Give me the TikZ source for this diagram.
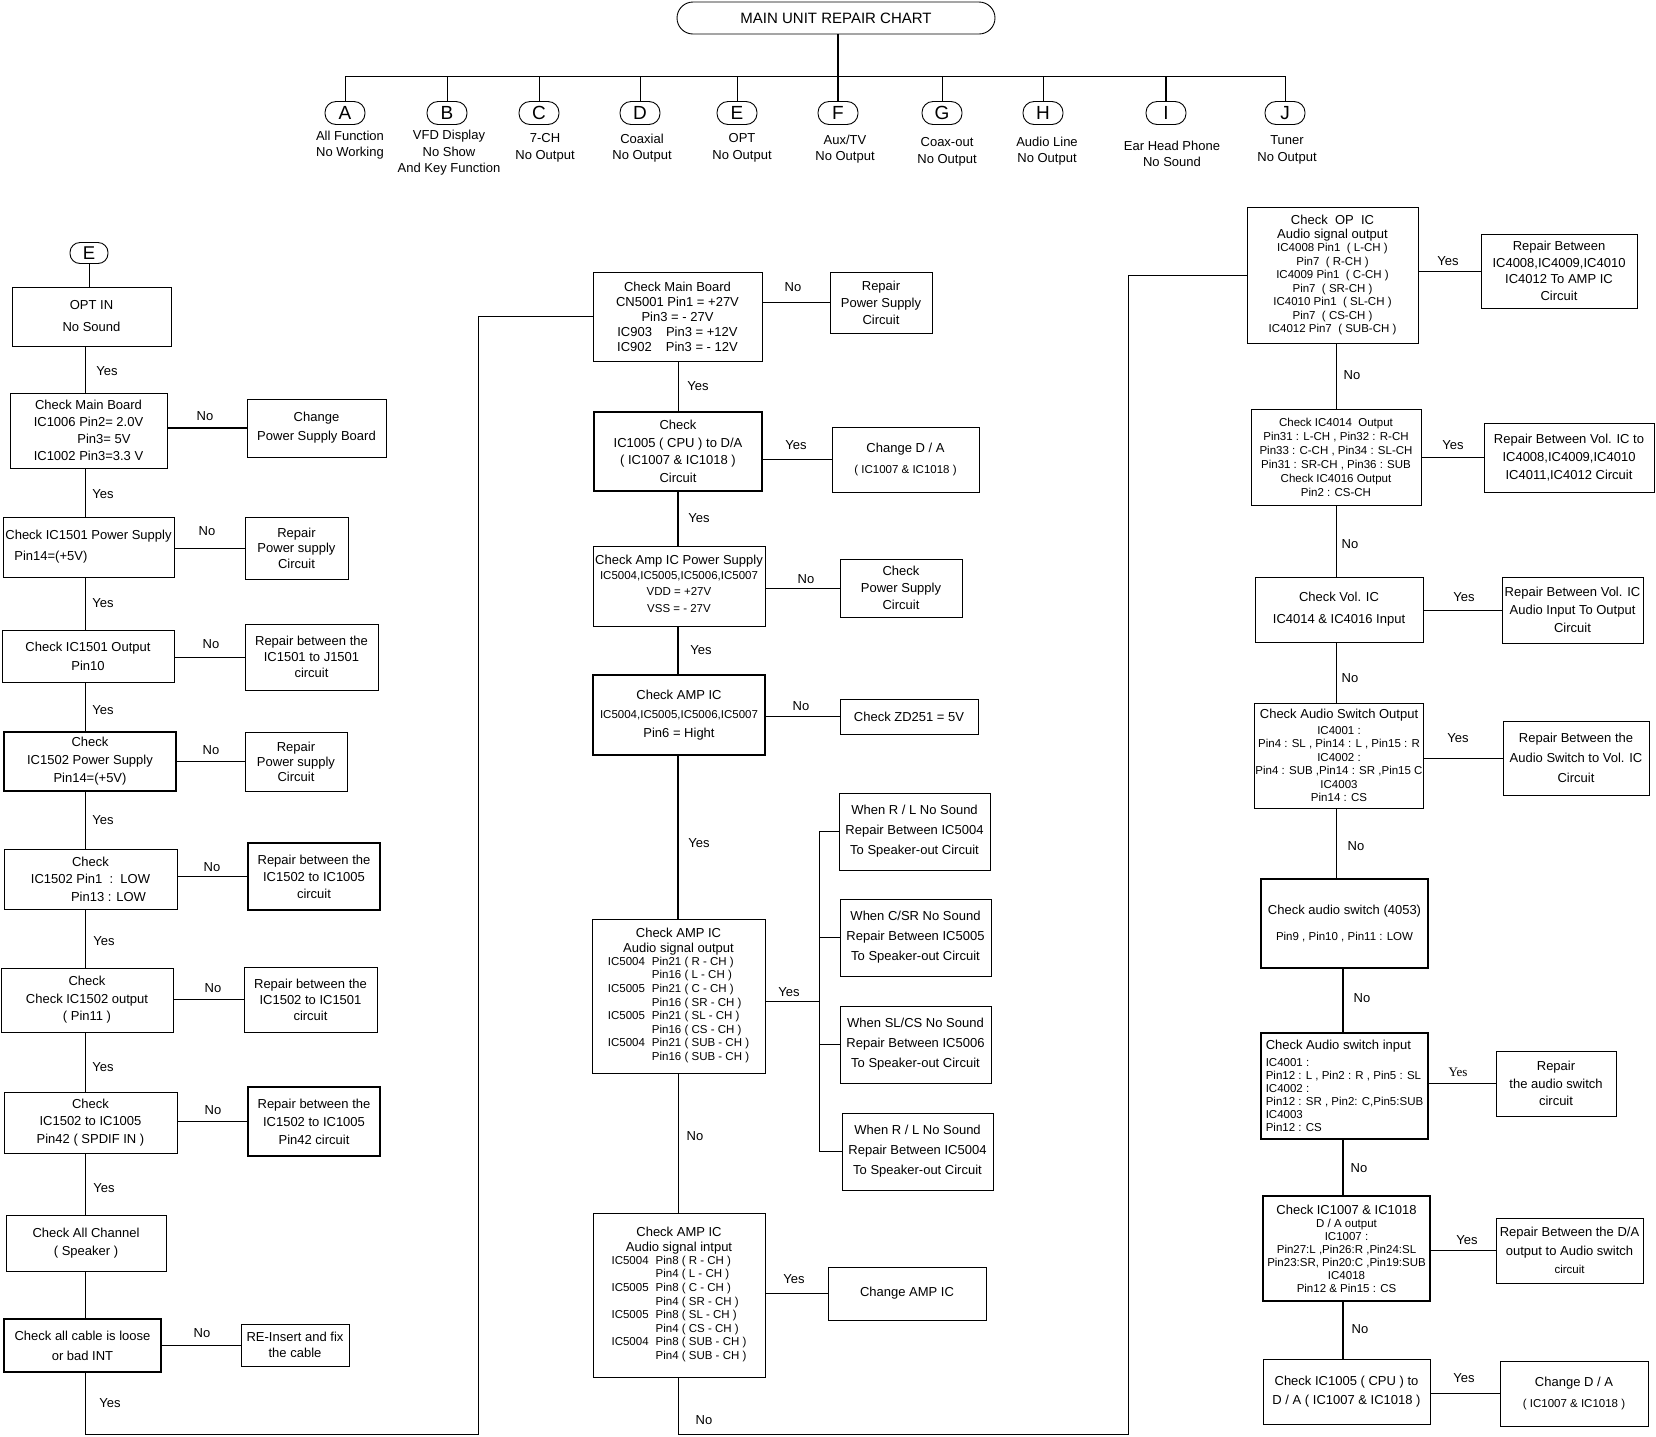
\documentclass[tikz,border=0pt]{standalone}
\usepackage{fontspec}
\setmainfont{Liberation Sans}
\newfontfamily\serifyes{Liberation Serif}
\usepackage{tikz}
\newcommand{\lead}[1]{\fontsize{13}{#1}\selectfont}
\newcommand{\smallfont}{\fontsize{11.5}{13}\selectfont}
\tikzset{
  box/.style={rectangle, draw=black, line width=0.9pt, align=center, inner sep=1pt, font=\lead{17}},
  heavybox/.style={box, line width=1.7pt},
  tag/.style={rectangle, draw=black, line width=0.9pt, rounded corners=11pt, minimum width=40pt, minimum height=23pt, inner sep=0pt, font=\fontsize{19}{19}\selectfont},
  caption/.style={align=center, inner sep=0pt, font=\lead{16.5}},
  lbl/.style={inner sep=0pt, font=\lead{13}},
  wire/.style={line width=0.9pt},
  heavy/.style={line width=1.8pt},
}
\begin{document}
\begin{tikzpicture}[x=1pt, y=-1pt]
        \useasboundingbox (0,0) rectangle (1656,1436);

        % Title and branches
        \node[box, rounded corners=16pt, minimum width=318pt, minimum height=32pt, font=\fontsize{15}{17}\selectfont] (title) at (836,18) {MAIN UNIT REPAIR CHART};
        \coordinate (hub) at (838,76);
        \node[tag] (A) at (345,113) {A};
        \node[tag] (B) at (447,113) {B};
        \node[tag] (C) at (539,113) {C};
        \node[tag] (D) at (640,113) {D};
        \node[tag] (E) at (737,113) {E};
        \node[tag] (F) at (838,113) {F};
        \node[tag] (G) at (942,113) {G};
        \node[tag] (H) at (1043,113) {H};
        \node[tag] (I) at (1166,113) {I};
        \node[tag] (J) at (1285,113) {J};
        \node[caption] (capA) at (350,145) {All Function\\ No Working};
        \node[caption] (capB) at (449,153) {VFD Display\\ No Show\\ And Key Function};
        \node[caption] (capC) at (545,148) {7-CH\\ No Output};
        \node[caption] (capD) at (642,148) {Coaxial\\ No Output};
        \node[caption] (capE) at (742,148) {OPT\\ No Output};
        \node[caption] (capF) at (845,149) {Aux/TV\\ No Output};
        \node[caption] (capG) at (947,152) {Coax-out\\ No Output};
        \node[caption] (capH) at (1047,151) {Audio Line\\ No Output};
        \node[caption] (capI) at (1172,154) {Ear Head Phone\\ No Sound};
        \node[caption] (capJ) at (1287,150) {Tuner\\ No Output};
        \draw[heavy] (title.south -| hub) -- (hub);
        \draw[wire] (A.north) |- (hub);
        \draw[wire] (J.north) |- (hub);
        \draw[wire] (B.north) -- (B.north |- hub);
        \draw[wire] (C.north) -- (C.north |- hub);
        \draw[wire] (D.north) -- (D.north |- hub);
        \draw[wire] (E.north) -- (E.north |- hub);
        \draw[heavy] (F.north) -- (hub);
        \draw[wire] (G.north) -- (G.north |- hub);
        \draw[wire] (H.north) -- (H.north |- hub);
        \draw[heavy] (I.north) -- (I.north |- hub);

        % Left column
        \coordinate (lt) at (85,0);
        \node[tag, minimum width=38pt, minimum height=21pt, rounded corners=10pt, font=\fontsize{18.5}{18.5}\selectfont] (eopt) at (89,253) {E};
        \node[box, minimum width=159pt, minimum height=59pt] (optin) at (91.5,316.5) {OPT IN\\[5pt] No Sound};
        \node[box, minimum width=157pt, minimum height=75pt] (lcmb) at (88.5,430.5) {Check Main Board\\ IC1006 Pin2= 2.0V\\ \hspace*{31pt}Pin3= 5V\\ IC1002 Pin3=3.3 V};
        \node[box, minimum width=139pt, minimum height=58pt, font=\lead{19}] (lcps) at (316.5,428) {Change\\ Power Supply Board};
        \node[box, minimum width=171pt, minimum height=60pt, align=left, font=\lead{21}] (l1501ps) at (88.5,547) {Check IC1501 Power Supply\\ \hspace*{9pt}Pin14=(+5V)};
        \node[box, minimum width=103pt, minimum height=62pt, font=\lead{15.5}] (lrps1) at (296.5,548) {Repair\\ Power supply\\ Circuit};
        \node[box, minimum width=172pt, minimum height=52pt, font=\lead{19}] (l1501out) at (88,656) {Check IC1501 Output\\ Pin10};
        \node[box, minimum width=133pt, minimum height=66pt, font=\lead{16}] (lrj1501) at (311.5,657) {Repair between the\\ IC1501 to J1501\\ circuit};
        \node[heavybox, minimum width=172pt, minimum height=59pt, font=\lead{18}] (l1502ps) at (90,761.5) {Check\\ IC1502 Power Supply\\ Pin14=(+5V)};
        \node[box, minimum width=102pt, minimum height=59pt, font=\lead{15}] (lrps2) at (296,761.5) {Repair\\ Power supply\\ Circuit};
        \node[box, minimum width=173pt, minimum height=60pt, font=\lead{17.5}] (l1502pin) at (90.5,879) {Check\\ IC1502 Pin1\ \ :\ \ LOW\\ \hspace*{36pt}Pin13 : LOW};
        \node[heavybox, minimum width=132pt, minimum height=67pt] (lr1005) at (314,876.5) {Repair between the\\ IC1502 to IC1005\\ circuit};
        \node[box, minimum width=172pt, minimum height=64pt, font=\lead{17.5}] (l1502out) at (87,1000) {Check\\ Check IC1502 output\\ ( Pin11 )};
        \node[box, minimum width=133pt, minimum height=65pt, font=\lead{16}] (lr1501) at (310.5,999.5) {Repair between the\\ IC1502 to IC1501\\ circuit};
        \node[box, minimum width=173pt, minimum height=61pt, font=\lead{17.5}] (lpin42) at (90.5,1122.5) {Check\\ IC1502 to IC1005\\ Pin42 ( SPDIF IN )};
        \node[heavybox, minimum width=132pt, minimum height=69pt, font=\lead{18}] (lrpin42) at (314,1121.5) {Repair between the\\ IC1502 to IC1005\\ Pin42 circuit};
        \node[box, minimum width=160pt, minimum height=56pt, font=\lead{18}] (lall) at (86,1243) {Check All Channel\\ ( Speaker )};
        \node[heavybox, minimum width=157pt, minimum height=53pt, font=\lead{20}] (lcable) at (82.5,1345.5) {Check all cable is loose\\ or bad INT};
        \node[box, minimum width=108pt, minimum height=42pt, font=\lead{16}] (lreins) at (295,1345) {RE-Insert and fix\\ the cable};
        \node[lbl] (ly1) at (107,371) {Yes};
        \node[lbl] (ly2) at (103,494) {Yes};
        \node[lbl] (ly3) at (103,603) {Yes};
        \node[lbl] (ly4) at (103,710) {Yes};
        \node[lbl] (ly5) at (103,820) {Yes};
        \node[lbl] (ly6) at (104,941) {Yes};
        \node[lbl] (ly7) at (103,1067) {Yes};
        \node[lbl] (ly8) at (104,1188) {Yes};
        \node[lbl] (ly9) at (110,1403) {Yes};
        \node[lbl] (ln1) at (205,416) {No};
        \node[lbl] (ln2) at (207,531) {No};
        \node[lbl] (ln3) at (211,644) {No};
        \node[lbl] (ln4) at (211,750) {No};
        \node[lbl] (ln5) at (212,867) {No};
        \node[lbl] (ln6) at (213,988) {No};
        \node[lbl] (ln7) at (213,1110) {No};
        \node[lbl] (ln8) at (202,1333) {No};
        \draw[wire] (eopt.south) -- (eopt.south |- optin.north);
        \draw[wire] (lt |- optin.south) -- (lt |- lcmb.north);
        \draw[wire] (lt |- lcmb.south) -- (lt |- l1501ps.north);
        \draw[wire] (lt |- l1501ps.south) -- (lt |- l1501out.north);
        \draw[wire] (lt |- l1501out.south) -- (lt |- l1502ps.north);
        \draw[wire] (lt |- l1502ps.south) -- (lt |- l1502pin.north);
        \draw[wire] (lt |- l1502pin.south) -- (lt |- l1502out.north);
        \draw[wire] (lt |- l1502out.south) -- (lt |- lpin42.north);
        \draw[wire] (lt |- lpin42.south) -- (lt |- lall.north);
        \draw[wire] (lt |- lall.south) -- (lt |- lcable.north);
        \draw[heavy] (lcps.west -| lcmb.east) -- (lcps.west);
        \draw[wire] (lrps1.west -| l1501ps.east) -- (lrps1.west);
        \draw[wire] (lrj1501.west -| l1501out.east) -- (lrj1501.west);
        \draw[wire] (lrps2.west -| l1502ps.east) -- (lrps2.west);
        \draw[heavy] (lr1005.west -| l1502pin.east) -- (lr1005.west);
        \draw[wire] (lr1501.west -| l1502out.east) -- (lr1501.west);
        \draw[heavy] (lrpin42.west -| lpin42.east) -- (lrpin42.west);
        \draw[wire] (lreins.west -| lcable.east) -- (lreins.west);

        % Middle column
        \coordinate (mt) at (678,0);
        \coordinate (mbus) at (819,0);
        \node[box, minimum width=169pt, minimum height=89pt, font=\lead{15}] (mcmb) at (677.5,316.5) {Check Main Board\\ CN5001 Pin1 = +27V\\ Pin3 = - 27V\\ IC903\hspace{14pt}Pin3 = +12V\\ IC902\hspace{14pt}Pin3 = - 12V};
        \node[box, minimum width=102pt, minimum height=61pt] (mrps) at (881,302.5) {Repair\\ Power Supply\\ Circuit};
        \node[heavybox, minimum width=168pt, minimum height=79pt, font=\lead{17.5}] (mcpu) at (678,451.5) {Check\\ IC1005 ( CPU ) to D/A\\ ( IC1007 \& IC1018 )\\ Circuit};
        \node[box, minimum width=147pt, minimum height=65pt, font=\lead{16}] (mcda) at (905.5,459.5) {Change D / A\\[5pt] {\smallfont ( IC1007 \& IC1018 )}};
        \node[box, minimum width=172pt, minimum height=80pt, font=\lead{17}] (mamp) at (679,586) {Check Amp IC Power Supply\\ {\smallfont\def\arraystretch{1.25}\begin{tabular}{@{}c@{}}IC5004,IC5005,IC5006,IC5007\\ VDD = +27V\\ VSS = - 27V\end{tabular}}};
        \node[box, minimum width=122pt, minimum height=58pt] (mcps) at (901,588) {Check\\ Power Supply\\ Circuit};
        \node[heavybox, minimum width=172pt, minimum height=80pt, font=\lead{19}] (mampic) at (679,715) {Check AMP IC\\ {\smallfont IC5004,IC5005,IC5006,IC5007}\\ Pin6 = Hight};
        \node[box, minimum width=138pt, minimum height=35pt] (mzd) at (909,716.5) {Check ZD251 = 5V};
        \node[box, minimum width=173pt, minimum height=154pt, font=\lead{15}] (maout) at (678.5,996) {Check AMP IC\\ Audio signal output\\ {\smallfont\def\arraystretch{1.04}\begin{tabular}{@{}l@{\hspace{7pt}}l@{}}IC5004 & Pin21 ( R - CH )\\ & Pin16 ( L - CH )\\ IC5005 & Pin21 ( C - CH )\\ & Pin16 ( SR - CH )\\ IC5005 & Pin21 ( SL - CH )\\ & Pin16 ( CS - CH )\\ IC5004 & Pin21 ( SUB - CH )\\ & Pin16 ( SUB - CH )\end{tabular}}};
        \node[box, minimum width=151pt, minimum height=77pt, font=\lead{20}] (mrl1) at (914.5,831.5) {When R / L No Sound\\ Repair Between IC5004\\ To Speaker-out Circuit};
        \node[box, minimum width=151pt, minimum height=77pt, font=\lead{20}] (mcsr) at (915.5,937.5) {When C/SR No Sound\\ Repair Between IC5005\\ To Speaker-out Circuit};
        \node[box, minimum width=151pt, minimum height=77pt, font=\lead{20}] (mslcs) at (915.5,1044.5) {When SL/CS No Sound\\ Repair Between IC5006\\ To Speaker-out Circuit};
        \node[box, minimum width=151pt, minimum height=77pt, font=\lead{20}] (mrl2) at (917.5,1151.5) {When R / L No Sound\\ Repair Between IC5004\\ To Speaker-out Circuit};
        \node[box, minimum width=172pt, minimum height=164pt, font=\lead{15}] (main) at (679,1295) {Check AMP IC\\ Audio signal intput\\ {\smallfont\def\arraystretch{1.04}\begin{tabular}{@{}l@{\hspace{7pt}}l@{}}IC5004 & Pin8 ( R - CH )\\ & Pin4 ( L - CH )\\ IC5005 & Pin8 ( C - CH )\\ & Pin4 ( SR - CH )\\ IC5005 & Pin8 ( SL - CH )\\ & Pin4 ( CS - CH )\\ IC5004 & Pin8 ( SUB - CH )\\ & Pin4 ( SUB - CH )\end{tabular}}};
        \node[box, minimum width=158pt, minimum height=53pt] (mcamp) at (907,1293.5) {Change AMP IC};
        \node[lbl] (mn1) at (793,287) {No};
        \node[lbl] (my1) at (698,386) {Yes};
        \node[lbl] (my2) at (796,445) {Yes};
        \node[lbl] (my3) at (699,518) {Yes};
        \node[lbl] (mn2) at (806,579) {No};
        \node[lbl] (my4) at (701,650) {Yes};
        \node[lbl] (mn3) at (801,706) {No};
        \node[lbl] (my5) at (699,843) {Yes};
        \node[lbl] (my6) at (789,992) {Yes};
        \node[lbl] (mn4) at (695,1136) {No};
        \node[lbl] (my7) at (794,1279) {Yes};
        \node[lbl] (mn5) at (704,1420) {No};
        \draw[wire] (mt |- mcmb.south) -- (mt |- mcpu.north);
        \draw[heavy] (mt |- mcpu.south) -- (mt |- mamp.north);
        \draw[heavy] (mt |- mamp.south) -- (mt |- mampic.north);
        \draw[heavy] (mt |- mampic.south) -- (mt |- maout.north);
        \draw[wire] (mt |- maout.south) -- (mt |- main.north);
        \draw[wire] (mrps.west -| mcmb.east) -- (mrps.west);
        \draw[wire] (mcda.west -| mcpu.east) -- (mcda.west);
        \draw[wire] (mcps.west -| mamp.east) -- (mcps.west);
        \draw[heavy] (mzd.west -| mampic.east) -- (mzd.west);
        \draw[wire] (mcamp.west -| main.east) -- (mcamp.west);
        \draw[wire] ([yshift=-5pt]maout.east) -- ([yshift=-5pt]maout.east -| mbus);
        \draw[wire] (mbus |- mrl1.west) -- (mbus |- mrl2.west);
        \draw[wire] (mbus |- mrl1.west) -- (mrl1.west);
        \draw[wire] (mbus |- mcsr.west) -- (mcsr.west);
        \draw[wire] (mbus |- mslcs.west) -- (mslcs.west);
        \draw[heavy] (mbus |- mrl2.west) -- (mrl2.west);

        % Right column
        \coordinate (rt) at (1336,0);
        \coordinate (rb) at (1343,0);
        \node[box, minimum width=171pt, minimum height=136pt, font=\lead{13.5}] (ropic) at (1332.5,275) {Check\ \ OP\ \ IC\\ Audio signal output\\ {\smallfont IC4008 Pin1\ \ ( L-CH )}\\ {\smallfont Pin7\ \ ( R-CH )}\\ {\smallfont IC4009 Pin1\ \ ( C-CH )}\\ {\smallfont Pin7\ \ ( SR-CH )}\\ {\smallfont IC4010 Pin1\ \ ( SL-CH )}\\ {\smallfont Pin7\ \ ( CS-CH )}\\ {\smallfont IC4012 Pin7\ \ ( SUB-CH )}};
        \node[box, minimum width=156pt, minimum height=74pt, font=\lead{16.5}] (rr4008) at (1559,271) {Repair Between\\ IC4008,IC4009,IC4010\\ IC4012 To AMP IC\\ Circuit};
        \node[box, minimum width=170pt, minimum height=96pt, font=\fontsize{11.5}{14}\selectfont] (r4014) at (1336,457) {Check IC4014\ \ Output\\ Pin31 : L-CH , Pin32 : R-CH\\ Pin33 : C-CH , Pin34 : SL-CH\\ Pin31 : SR-CH , Pin36 : SUB\\ Check IC4016 Output\\ Pin2 : CS-CH};
        \node[box, minimum width=170pt, minimum height=69pt, font=\lead{18}] (rr4011) at (1569,457.5) {Repair Between Vol. IC to\\ IC4008,IC4009,IC4010\\ IC4011,IC4012 Circuit};
        \node[box, minimum width=168pt, minimum height=65pt, font=\lead{22}] (rvol) at (1339,609.5) {Check Vol. IC\\ IC4014 \& IC4016 Input};
        \node[box, minimum width=141pt, minimum height=66pt, font=\lead{18}] (rrvol) at (1572.5,610) {Repair Between Vol. IC\\ Audio Input To Output\\ Circuit};
        \node[box, minimum width=168pt, minimum height=105pt, font=\lead{13.5}] (raso) at (1339,755.5) {Check Audio Switch Output\\[2pt] {\smallfont IC4001 :}\\ {\smallfont Pin4 : SL , Pin14 : L , Pin15 : R}\\ {\smallfont IC4002 :}\\ {\smallfont Pin4 : SUB ,Pin14 : SR ,Pin15 C}\\ {\smallfont IC4003}\\ {\smallfont Pin14 : CS}};
        \node[box, minimum width=146pt, minimum height=74pt, font=\lead{20}] (rrsw) at (1576,758) {Repair Between the\\ Audio Switch to Vol. IC\\ Circuit};
        \node[heavybox, minimum width=167pt, minimum height=89pt, font=\lead{26}] (r4053) at (1344.5,923.5) {Check audio switch (4053)\\ {\smallfont Pin9 , Pin10 , Pin11 : LOW}};
        \node[heavybox, minimum width=167pt, minimum height=106pt, align=left, font=\lead{13}] (rasi) at (1344.5,1086) {Check Audio switch input\\[4pt] {\smallfont IC4001 :}\\ {\smallfont Pin12 : L , Pin2 : R , Pin5 : SL}\\ {\smallfont IC4002 :}\\ {\smallfont Pin12 : SR , Pin2: C,Pin5:SUB}\\ {\smallfont IC4003}\\ {\smallfont Pin12 : CS}};
        \node[box, minimum width=120pt, minimum height=65pt, font=\lead{17.5}] (rrasw) at (1556,1083.5) {Repair\\ the audio switch\\ circuit};
        \node[heavybox, minimum width=167pt, minimum height=105pt, font=\lead{13}] (r1007) at (1346.5,1248.5) {Check IC1007 \& IC1018\\ {\smallfont D / A output}\\ {\smallfont IC1007 :}\\ {\smallfont Pin27:L ,Pin26:R ,Pin24:SL}\\ {\smallfont Pin23:SR, Pin20:C ,Pin19:SUB}\\ {\smallfont IC4018}\\ {\smallfont Pin12 \& Pin15 : CS}};
        \node[box, minimum width=147pt, minimum height=65pt, font=\lead{18.5}] (rrda) at (1569.5,1250.5) {Repair Between the D/A\\ output to Audio switch\\ {\smallfont circuit}};
        \node[box, minimum width=167pt, minimum height=65pt, font=\lead{19}] (rcpu) at (1346.5,1391.5) {Check IC1005 ( CPU ) to\\ D / A ( IC1007 \& IC1018 )};
        \node[box, minimum width=148pt, minimum height=65pt, font=\lead{16}] (rcda) at (1574,1393.5) {Change D / A\\[5pt] {\smallfont ( IC1007 \& IC1018 )}};
        \node[lbl] (ry1) at (1448,261) {Yes};
        \node[lbl] (rn1) at (1352,375) {No};
        \node[lbl] (ry2) at (1453,445) {Yes};
        \node[lbl] (rn2) at (1350,544) {No};
        \node[lbl] (ry3) at (1464,597) {Yes};
        \node[lbl] (rn3) at (1350,678) {No};
        \node[lbl] (ry4) at (1458,738) {Yes};
        \node[lbl] (rn4) at (1356,846) {No};
        \node[lbl] (rn5) at (1362,998) {No};
        \node[lbl, font=\serifyes\fontsize{13}{13}\selectfont] (ry5) at (1458,1072) {Yes};
        \node[lbl] (rn6) at (1359,1168) {No};
        \node[lbl] (ry6) at (1467,1240) {Yes};
        \node[lbl] (rn7) at (1360,1329) {No};
        \node[lbl] (ry7) at (1464,1378) {Yes};
        \draw[wire] (rt |- ropic.south) -- (rt |- r4014.north);
        \draw[wire] (rt |- r4014.south) -- (rt |- rvol.north);
        \draw[wire] (rt |- rvol.south) -- (rt |- raso.north);
        \draw[wire] (rt |- raso.south) -- (rt |- r4053.north);
        \draw[heavy] (rb |- r4053.south) -- (rb |- rasi.north);
        \draw[heavy] (rb |- rasi.south) -- (rb |- r1007.north);
        \draw[heavy] (rb |- r1007.south) -- (rb |- rcpu.north);
        \draw[wire] (rr4008.west -| ropic.east) -- (rr4008.west);
        \draw[wire] (rr4011.west -| r4014.east) -- (rr4011.west);
        \draw[wire] (rrvol.west -| rvol.east) -- (rrvol.west);
        \draw[wire] (rrsw.west -| raso.east) -- (rrsw.west);
        \draw[wire] (rrasw.west -| rasi.east) -- (rrasw.west);
        \draw[wire] (rrda.west -| r1007.east) -- (rrda.west);
        \draw[wire] (rcda.west -| rcpu.east) -- (rcda.west);

        % Return paths between columns
        \coordinate (lturn) at (478,1434.5);
        \coordinate (mturn) at (1128,1434.5);
        \draw[wire] (lt |- lcable.south) |- (lturn) |- (mcmb.west);
        \draw[wire] (mt |- main.south) |- (mturn) |- (ropic.west);
\end{tikzpicture}
\end{document}
